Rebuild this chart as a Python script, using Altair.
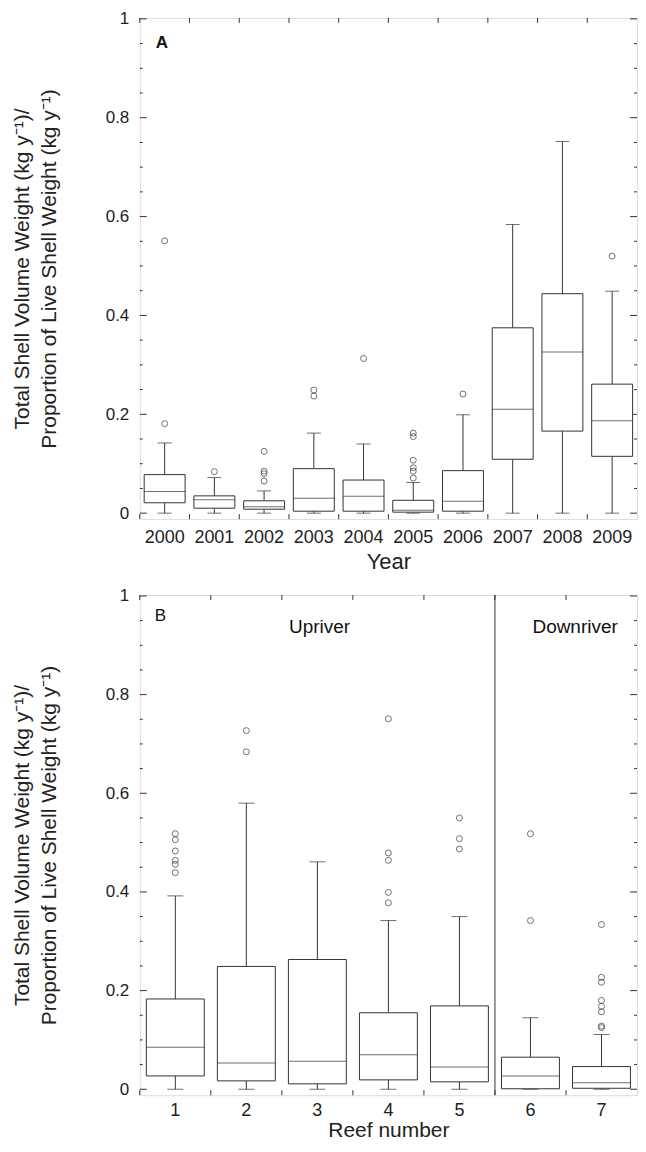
import altair as alt
import pandas as pd

# ---------------- data ----------------
years = ["2000", "2001", "2002", "2003", "2004", "2005", "2006", "2007", "2008", "2009"]
a_lo = [0, 0, 0, 0, 0, 0, 0, 0, 0, 0]
a_q1 = [0.021, 0.010, 0.008, 0.004, 0.004, 0.002, 0.004, 0.109, 0.166, 0.115]
a_med = [0.044, 0.027, 0.013, 0.030, 0.034, 0.006, 0.024, 0.210, 0.326, 0.187]
a_q3 = [0.078, 0.035, 0.025, 0.090, 0.067, 0.026, 0.086, 0.375, 0.444, 0.261]
a_hi = [0.142, 0.072, 0.045, 0.162, 0.140, 0.062, 0.199, 0.584, 0.752, 0.449]
a_out = {
    "2000": [0.551, 0.181],
    "2001": [0.084],
    "2002": [0.125, 0.085, 0.080, 0.065],
    "2003": [0.249, 0.237],
    "2004": [0.313],
    "2005": [0.162, 0.155, 0.107, 0.092, 0.085, 0.071],
    "2006": [0.241],
    "2009": [0.520],
}

reefs = ["1", "2", "3", "4", "5", "6", "7"]
regions = ["Upriver", "Upriver", "Upriver", "Upriver", "Upriver", "Downriver", "Downriver"]
b_lo = [0, 0, 0, 0, 0, 0, 0]
b_q1 = [0.027, 0.017, 0.011, 0.019, 0.015, 0.001, 0.002]
b_med = [0.085, 0.053, 0.057, 0.070, 0.045, 0.027, 0.013]
b_q3 = [0.183, 0.249, 0.263, 0.155, 0.169, 0.065, 0.046]
b_hi = [0.392, 0.580, 0.461, 0.342, 0.350, 0.145, 0.111]
b_out = {
    "1": [0.518, 0.506, 0.483, 0.464, 0.456, 0.439],
    "2": [0.727, 0.684],
    "4": [0.751, 0.479, 0.464, 0.399, 0.378],
    "5": [0.550, 0.508, 0.487],
    "6": [0.518, 0.342],
    "7": [0.334, 0.227, 0.217, 0.180, 0.168, 0.157, 0.128, 0.125],
}

y_label_values = [0, 0.2, 0.4, 0.6, 0.8, 1.0]
y_minor_ticks = [0.05, 0.1, 0.15, 0.25, 0.3, 0.35, 0.45, 0.5, 0.55, 0.65, 0.7, 0.75, 0.85, 0.9, 0.95]

y_title = ["Total Shell Volume Weight (kg y\u207b\u00b9)/", "Proportion of Live Shell Weight (kg y\u207b\u00b9)"]

# ---------------- style ----------------
W = 498
INK = "#333333"
FONT = "Liberation Sans"
YDOM = [-0.012, 1.002]


def panel(cats, lo, q1, med, q3, hi, outs, box_w, cap_w, xtitle, lab_pad, title_pad, title_size,
          H, texts):
    stats = pd.DataFrame({"c": cats, "lo": lo, "q1": q1, "med": med, "q3": q3, "hi": hi})
    orows = [{"c": k, "v": v} for k, vals in outs.items() for v in vals]
    odf = pd.DataFrame(orows)
    cdf = pd.DataFrame({"c": cats})
    major = pd.DataFrame({"t": y_label_values})
    minor = pd.DataFrame({"t": y_minor_ticks})

    xscale = alt.Scale(domain=cats, paddingInner=0, paddingOuter=0)
    xaxis = alt.Axis(labelAngle=0, ticks=False, domain=False, grid=False,
                     labelFontSize=18, labelPadding=lab_pad, labelColor="#222",
                     title=xtitle, titleFontSize=title_size, titleFontWeight="normal",
                     titlePadding=title_pad, titleColor="#222", labelFont=FONT, titleFont=FONT)
    yscale = alt.Scale(domain=YDOM, nice=False, zero=False)
    yaxis = alt.Axis(values=y_label_values, format="~g", ticks=False, domain=False,
                     grid=False, labelFontSize=17, labelPadding=11, labelColor="#222",
                     title=y_title, titleFontSize=21, titleFontWeight="normal",
                     titlePadding=46, titleLineHeight=27, titleColor="#222",
                     labelFont=FONT, titleFont=FONT)

    def X(**kw):
        return alt.X("c:N", scale=xscale, axis=xaxis, sort=cats, **kw)

    def Y(f):
        return alt.Y(f"{f}:Q", scale=yscale, axis=yaxis)

    base = alt.Chart(stats)
    boxes = base.mark_bar(size=box_w, fill="white", stroke=INK, strokeWidth=1).encode(
        x=X(), y=Y("q1"), y2="q3")
    wlo = base.mark_rule(color=INK, strokeWidth=1).encode(x=X(), y=Y("lo"), y2="q1")
    whi = base.mark_rule(color=INK, strokeWidth=1).encode(x=X(), y=Y("q3"), y2="hi")
    caplo = base.mark_tick(size=cap_w, thickness=1, color=INK).encode(x=X(), y=Y("lo"))
    caphi = base.mark_tick(size=cap_w, thickness=1, color=INK).encode(x=X(), y=Y("hi"))
    meds = base.mark_tick(size=box_w, thickness=1, color=INK).encode(x=X(), y=Y("med"))
    pts = alt.Chart(odf).mark_point(shape="circle", filled=False, size=36, color="#333",
                                    strokeWidth=1).encode(x=X(), y=Y("v"))

    # inward ticks
    tl_major = alt.Chart(major).mark_rule(color=INK).encode(
        y=Y("t"), x=alt.value(0), x2=alt.value(7))
    tl_minor = alt.Chart(minor).mark_rule(color=INK).encode(
        y=Y("t"), x=alt.value(0), x2=alt.value(3))
    tr_major = alt.Chart(major).mark_rule(color=INK).encode(
        y=Y("t"), x=alt.value(W - 7), x2=alt.value(W))
    tr_minor = alt.Chart(minor).mark_rule(color=INK).encode(
        y=Y("t"), x=alt.value(W - 3), x2=alt.value(W))
    tb = alt.Chart(cdf).mark_rule(color=INK).encode(
        x=X(bandPosition=0), y=alt.value(H - 5), y2=alt.value(H))
    tt = alt.Chart(cdf).mark_rule(color=INK).encode(
        x=X(bandPosition=0), y=alt.value(0), y2=alt.value(5))

    layers = [tl_major, tl_minor, tr_major, tr_minor, tb, tt,
              wlo, whi, caplo, caphi, boxes, meds, pts]
    layers.extend(texts)
    return layers, X


# ---------- Panel A ----------
HA = 502
txtA = alt.Chart(pd.DataFrame({"t": ["A"]})).mark_text(
    align="left", baseline="middle", fontSize=17, fontWeight="bold", font=FONT, color="#111"
).encode(text="t:N", x=alt.value(16), y=alt.value(25))
layersA, XA = panel(years, a_lo, a_q1, a_med, a_q3, a_hi, a_out, 41, 14, "Year", 9, 5, 22, HA,
                    [txtA])
chartA = alt.layer(*layersA).properties(width=W, height=HA)

# ---------- Panel B ----------
HB = 501
txtB = alt.Chart(pd.DataFrame({"t": ["B"]})).mark_text(
    align="left", baseline="middle", fontSize=17, font=FONT, color="#111"
).encode(text="t:N", x=alt.value(15), y=alt.value(21))
txtUp = alt.Chart(pd.DataFrame({"t": ["Upriver"]})).mark_text(
    align="center", baseline="middle", fontSize=19, font=FONT, color="#111"
).encode(text="t:N", x=alt.value(180), y=alt.value(32))
txtDown = alt.Chart(pd.DataFrame({"t": ["Downriver"]})).mark_text(
    align="center", baseline="middle", fontSize=19, font=FONT, color="#111"
).encode(text="t:N", x=alt.value(436), y=alt.value(32))

down_first = [r for r, g in zip(reefs, regions) if g == "Downriver"][:1]
layersB, XB = panel(reefs, b_lo, b_q1, b_med, b_q3, b_hi, b_out, 58, 16, "Reef number", 6, 0, 21,
                    HB, [txtB, txtUp, txtDown])
divider = alt.Chart(pd.DataFrame({"c": down_first})).mark_rule(color=INK, strokeWidth=1).encode(
    x=XB(bandPosition=0), y=alt.value(0), y2=alt.value(HB))
chartB = alt.layer(*layersB, divider).properties(width=W, height=HB)

chart = alt.vconcat(chartA, chartB, spacing=13).properties(
    padding={"left": 2, "top": 0, "right": 0, "bottom": 0}
).configure_view(stroke="#444", strokeWidth=1).configure(background="white")

chart.save("out.html", embed_options={"renderer": "svg", "actions": False})
